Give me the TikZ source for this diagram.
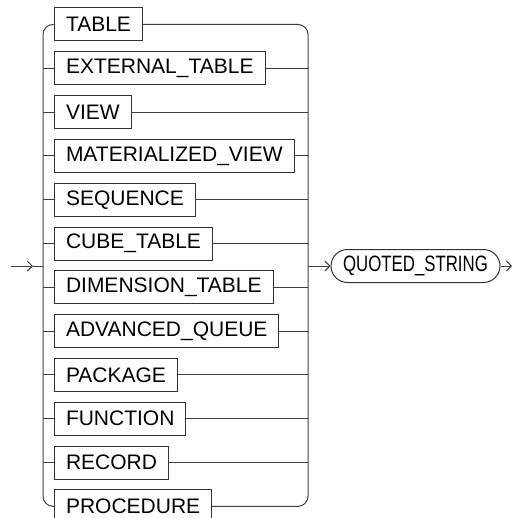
\documentclass[tikz,border=0pt]{standalone}
\usepackage{fontspec}
\setmainfont{Liberation Sans}
\usepackage{graphicx}
\usetikzlibrary{arrows.meta}

\begin{document}
\begin{tikzpicture}[
            x=0.5pt,y=-0.5pt,
            every node/.style={
                font=\fontsize{10.5}{12}\selectfont,
                text=black
            },
            kw/.style={
                draw=black!80,rectangle,line width=0.5pt,
                inner xsep=5.75pt,inner ysep=0pt,minimum height=16.5pt,
                anchor=west
            },
            strlit/.style={
                draw=black!80,rectangle,line width=0.5pt,rounded corners=8.25pt,
                inner xsep=0pt,inner ysep=0pt,minimum height=16.5pt,minimum width=84.5pt
            },
            rail/.style={draw=black!75,line width=0.5pt},
            arr/.style={rail,-{Straight Barb[length=2.5pt,width=5pt]}}
        ]
    \clip (0,0) rectangle (513,518);
    % Choices
    \foreach\lbl [count=\i from 0] in {TABLE,EXTERNAL\_TABLE,VIEW,MATERIALIZED\_VIEW,SEQUENCE,CUBE\_TABLE,DIMENSION\_TABLE,ADVANCED\_QUEUE,PACKAGE,FUNCTION,RECORD,PROCEDURE}{
        \node[kw] (r\i) at (54,24.5+43.8*\i) {\lbl};
    }
    \node[strlit] (qs) at (415.5,266) {\scalebox{0.8}[1.06]{QUOTED\_STRING}};
    % Rails
        \coordinate (lrail) at (43,0);
        \coordinate (rrail) at (308,0);
        \coordinate (start) at (11,266);
        \coordinate (entry) at (33,266);
        \coordinate (stop) at (512,266);
        \draw[rail,rounded corners=5pt] (r0.west) -| (lrail |- r11.west) -- (r11.west);
        \draw[rail,rounded corners=5pt] (r0.east) -| (rrail |- r11.east) -- (r11.east);
    \foreach\i in {1,...,10}{
        \draw[rail] (lrail |- r\i.west) -- (r\i.west);
        \draw[rail] (r\i.east) -- (rrail |- r\i.east);
    }
    % Arrows
        \draw[arr] (start) -- (entry);
        \draw[rail] (entry) -- (lrail |- entry);
        \draw[arr] (rrail |- qs.west) -- (qs.west);
        \draw[arr] (qs.east) -- (stop);
\end{tikzpicture}
\end{document}
